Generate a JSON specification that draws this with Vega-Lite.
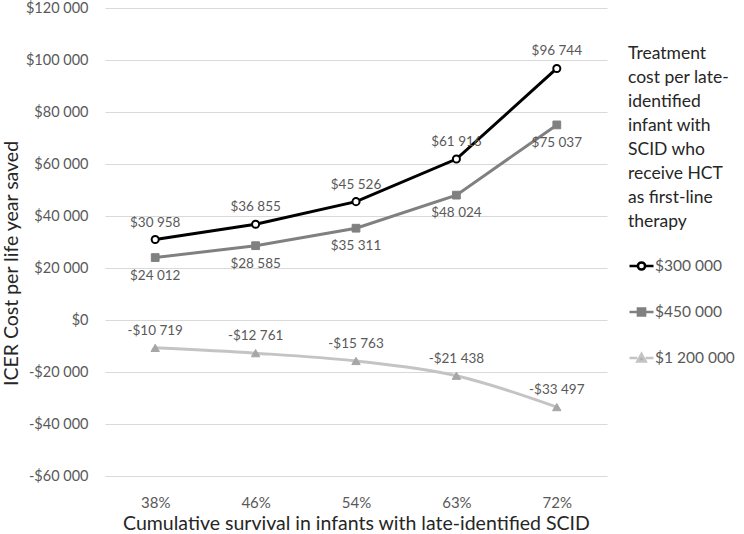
{
  "$schema": "https://vega.github.io/schema/vega-lite/v6.json",
  "width": 502,
  "height": 468,
  "autosize": {"type": "none"},
  "padding": {"left": 105, "top": 8, "right": 137, "bottom": 58},
  "background": "white",
  "config": {
    "font": "Lato",
    "view": {"stroke": null},
    "locale": {"number": {"decimal": ".", "thousands": " ", "grouping": [3], "currency": ["$", ""], "minus": "-"}}
  },
  "data": {
    "values": [
      {"survival": "38%", "series": "$300 000", "icer": 30958},
      {"survival": "46%", "series": "$300 000", "icer": 36855},
      {"survival": "54%", "series": "$300 000", "icer": 45526},
      {"survival": "63%", "series": "$300 000", "icer": 61916},
      {"survival": "72%", "series": "$300 000", "icer": 96744},
      {"survival": "38%", "series": "$450 000", "icer": 24012},
      {"survival": "46%", "series": "$450 000", "icer": 28585},
      {"survival": "54%", "series": "$450 000", "icer": 35311},
      {"survival": "63%", "series": "$450 000", "icer": 48024},
      {"survival": "72%", "series": "$450 000", "icer": 75037},
      {"survival": "38%", "series": "$1 200 000", "icer": -10719},
      {"survival": "46%", "series": "$1 200 000", "icer": -12761},
      {"survival": "54%", "series": "$1 200 000", "icer": -15763},
      {"survival": "63%", "series": "$1 200 000", "icer": -21438},
      {"survival": "72%", "series": "$1 200 000", "icer": -33497}
    ]
  },
  "encoding": {
    "x": {
      "field": "survival", "type": "ordinal", "sort": null,
      "scale": {"type": "point", "padding": 0.5},
      "axis": {
        "title": "Cumulative survival in infants with late-identified SCID",
        "labelAngle": 0, "labelFontSize": 15, "labelColor": "#595959", "labelPadding": 19,
        "titleFontSize": 19.5, "titleFontWeight": "normal", "titleColor": "#262626", "titlePadding": 4,
        "ticks": false, "domain": false, "grid": false
      }
    },
    "y": {
      "field": "icer", "type": "quantitative",
      "scale": {"domain": [-60000, 120000], "nice": false, "zero": false},
      "axis": {
        "title": "ICER Cost per life year saved",
        "values": [-60000, -40000, -20000, 0, 20000, 40000, 60000, 80000, 100000, 120000],
        "format": "$,.0f",
        "labelFontSize": 14.5, "labelColor": "#595959", "labelPadding": 17,
        "titleFontSize": 19.5, "titleFontWeight": "normal", "titleColor": "#262626", "titlePadding": 4,
        "titleY": 255,
        "gridColor": "#d9d9d9", "gridWidth": 1.2,
        "ticks": false, "domain": false
      }
    }
  },
  "layer": [
    {
      "transform": [{"filter": "datum.series !== '$1 200 000'"}],
      "mark": {"type": "line", "strokeWidth": 3},
      "encoding": {
        "color": {
          "field": "series", "type": "nominal",
          "scale": {"domain": ["$300 000", "$450 000", "$1 200 000"], "range": ["#000000", "#808080", "#c4c4c4"]},
          "legend": {
            "orient": "none", "legendX": 523, "legendY": 37,
            "title": ["Treatment", "cost per late-", "identified", "infant with", "SCID who", "receive HCT", "as first-line", "therapy"],
            "titleFontSize": 17.5, "titleFontWeight": "normal", "titleColor": "#262626", "titleLineHeight": 24,
            "titleBaseline": "top", "titlePadding": 22, "titleLimit": 200,
            "labelFontSize": 15.5, "labelColor": "#595959", "labelOffset": 0,
            "symbolSize": 576, "symbolStrokeWidth": 2.5, "symbolOpacity": 1, "rowPadding": 23
          }
        }
      }
    },
    {
      "transform": [{"filter": "datum.series === '$1 200 000'"}],
      "mark": {"type": "line", "strokeWidth": 3, "interpolate": "monotone"},
      "encoding": {
        "color": {"field": "series", "type": "nominal"}
      }
    },
    {
      "transform": [{"filter": "datum.icer > 1000000"}],
      "mark": {"type": "point", "filled": true, "size": 576, "strokeWidth": 2.5, "opacity": 1},
      "encoding": {
        "shape": {
          "field": "series", "type": "nominal",
          "scale": {"domain": ["$300 000", "$450 000", "$1 200 000"], "range": [
            "M-1,0L-0.3,0M0.3,0L1,0M0.3,0A0.3,0.3 0 1 1 -0.3,0A0.3,0.3 0 1 1 0.3,0Z",
            "M-1,0L-0.3,0M0.3,0L1,0M-0.3,-0.3L0.3,-0.3L0.3,0.3L-0.3,0.3Z",
            "M-1,0L-0.35,0M0.35,0L1,0M0,-0.35L0.35,0.3L-0.35,0.3Z"
          ]}
        },
        "fill": {
          "field": "series", "type": "nominal",
          "scale": {"domain": ["$300 000", "$450 000", "$1 200 000"], "range": ["#ffffff", "#808080", "#b0b0b0"]}
        },
        "stroke": {
          "field": "series", "type": "nominal",
          "scale": {"domain": ["$300 000", "$450 000", "$1 200 000"], "range": ["#000000", "#808080", "#bdbdbd"]}
        }
      }
    },
    {
      "transform": [{"filter": "datum.series === '$300 000'"}],
      "mark": {"type": "point", "shape": "circle", "filled": true, "fill": "#ffffff", "stroke": "#000000", "strokeWidth": 2, "size": 50, "opacity": 1}
    },
    {
      "transform": [{"filter": "datum.series === '$450 000'"}],
      "mark": {"type": "point", "shape": "square", "filled": true, "fill": "#808080", "stroke": "#808080", "strokeWidth": 1, "size": 60, "opacity": 1}
    },
    {
      "transform": [{"filter": "datum.series === '$1 200 000'"}],
      "mark": {"type": "point", "shape": "triangle-up", "filled": true, "fill": "#a6a6a6", "stroke": "#a6a6a6", "strokeWidth": 1, "size": 70, "opacity": 1}
    },
    {
      "transform": [{"filter": "datum.series !== '$450 000'"}],
      "mark": {"type": "text", "dy": -17, "fontSize": 13.5, "color": "#595959"},
      "encoding": {"text": {"field": "icer", "type": "quantitative", "format": "$,.0f"}}
    },
    {
      "transform": [{"filter": "datum.series === '$450 000'"}],
      "mark": {"type": "text", "dy": 18, "fontSize": 13.5, "color": "#595959"},
      "encoding": {"text": {"field": "icer", "type": "quantitative", "format": "$,.0f"}}
    }
  ]
}
